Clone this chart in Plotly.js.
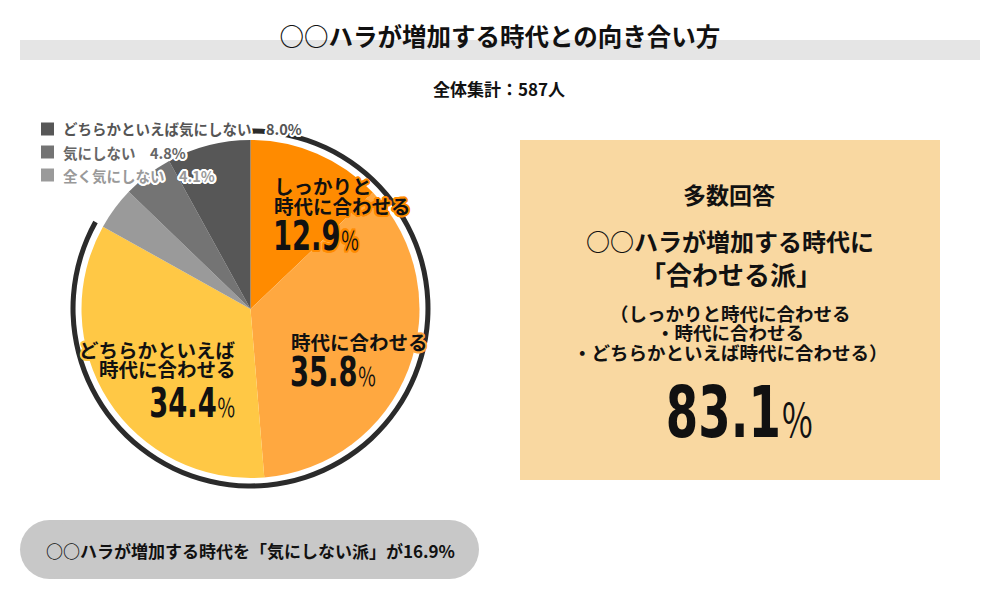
<!DOCTYPE html>
<html>
<head>
<meta charset="utf-8">
<script src="https://cdn.plot.ly/plotly-3.0.1.min.js"></script>
<style>html,body{margin:0;padding:0;background:#fff;}#chart{width:1000px;height:600px;}</style>
</head>
<body>
<div id="chart"></div>
<script>
// ---- data ----
const chartTitle = '○○ハラが増加する時代との向き合い方';
const totalLabel = '全体集計：';
const totalN = 587;
const categories = ['しっかりと時代に合わせる', '時代に合わせる', 'どちらかといえば時代に合わせる', '全く気にしない', '気にしない', 'どちらかといえば気にしない'];
const values = [12.9, 35.8, 34.4, 4.1, 4.8, 8.0];
const sliceColors = ['#FF8B00', '#FFA840', '#FFC845', '#9A9A9A', '#747474', '#575757'];
const pieLabelLines = [['しっかりと', '時代に合わせる'], ['時代に合わせる'], ['どちらかといえば', '時代に合わせる']];
const legendIdx = [5, 4, 3];
const legendTextColors = ['#555555', '#666666', '#999999'];
const agreeIdx = [0, 1, 2];
const ignoreIdx = [3, 4, 5];
const boxHead = '多数回答';
const boxLine1 = '○○ハラが増加する時代に';
const boxLine2 = '「合わせる派」';
const boxParen = ['（しっかりと時代に合わせる', '・時代に合わせる', '・どちらかといえば時代に合わせる）'];
const pillPrefix = '○○ハラが増加する時代を「気にしない派」が';

// ---- helpers ----
const W = 1000, H = 600;
const px = x => x / W;
const py = y => 1 - y / H;
const JP = '"Noto Sans CJK JP", "Noto Sans", sans-serif';
const NUM = '"DejaVu Sans Condensed", "Liberation Sans", sans-serif';
function outline(color, w) {
  const s = [];
  for (let r = 1; r <= w; r++) {
    for (let a = 0; a < 16; a++) {
      const t = a * Math.PI / 8;
      s.push((r * Math.cos(t)).toFixed(2) + 'px ' + (r * Math.sin(t)).toFixed(2) + 'px 0 ' + color);
    }
  }
  return s.join(', ');
}
const pct = v => v.toFixed(1);
const pctSpan = size => '<span style="font-size:' + size + 'px;font-weight:400;font-family:Noto Sans CJK JP">％</span>';
const sum = idx => idx.reduce((a, i) => a + values[i], 0);

// ---- traces ----
const agree = sum(agreeIdx), ignore = sum(ignoreIdx);
const ring = {
  type: 'pie', values: [agree, ignore], sort: false, direction: 'clockwise', rotation: 0,
  hole: 0.972, marker: {colors: ['#2b2b2b', 'rgba(0,0,0,0)'], line: {width: 0}},
  textinfo: 'none', hoverinfo: 'skip', showlegend: false,
  domain: {x: [px(70.5), px(430.5)], y: [py(488.5), py(128.5)]}
};
const pie = {
  type: 'pie', labels: categories, values: values, sort: false, direction: 'clockwise', rotation: 0,
  marker: {colors: sliceColors, line: {width: 0}},
  textinfo: 'none', hoverinfo: 'label+percent', showlegend: false,
  domain: {x: [px(81), px(420)], y: [py(478), py(140)]}
};

// ---- layout pieces ----
const shapes = [
  {type: 'rect', xref: 'paper', yref: 'paper', x0: px(20), x1: px(980), y0: py(60), y1: py(40), fillcolor: '#E5E5E5', line: {width: 0}, layer: 'below'},
  {type: 'rect', xref: 'paper', yref: 'paper', x0: px(520), x1: px(940), y0: py(480), y1: py(140), fillcolor: '#F9D8A1', line: {width: 0}, layer: 'below'},
  {type: 'rect', xref: 'paper', yref: 'paper', x0: px(49.5), x1: px(449.5), y0: py(579), y1: py(520), fillcolor: '#C8C8C8', line: {width: 0}, layer: 'below'},
  {type: 'circle', xref: 'paper', yref: 'paper', x0: px(20), x1: px(79), y0: py(579), y1: py(520), fillcolor: '#C8C8C8', line: {width: 0}, layer: 'below'},
  {type: 'circle', xref: 'paper', yref: 'paper', x0: px(420), x1: px(479), y0: py(579), y1: py(520), fillcolor: '#C8C8C8', line: {width: 0}, layer: 'below'}
];
const ann = [];
const squeeze = []; // [annotation index, scaleX, origin]
function add(text, x, y, opts) {
  ann.push(Object.assign({text: text, x: px(x), y: py(y), xref: 'paper', yref: 'paper', showarrow: false,
    xanchor: 'center', yanchor: 'middle'}, opts));
  return ann.length - 1;
}
add(totalLabel + totalN + '人', 499, 89, {font: {family: JP, size: 17, weight: 700, color: '#111'}});

// legend
const legendY = [129, 152, 175];
legendIdx.forEach((ci, k) => {
  shapes.push({type: 'rect', xref: 'paper', yref: 'paper', x0: px(41), x1: px(54), y0: py(legendY[k] + 6.5), y1: py(legendY[k] - 6.5), fillcolor: sliceColors[ci], line: {width: 0}});
  add(categories[ci] + '　' + pct(values[ci]) + '%', 61, legendY[k], {xanchor: 'left',
    font: {family: JP, size: 14.5, weight: 700, color: legendTextColors[k], shadow: outline('#ffffff', 2)}});
});

// pie labels
const labelPos = [
  {x: 272, ys: [185, 206], ny: 236, anchor: 'left'},
  {x: 289, ys: [341], ny: 372, anchor: 'left'},
  {x: 238, ys: [349, 368], ny: 403, anchor: 'right'}
];
labelPos.forEach((p, i) => {
  const sh = outline(sliceColors[i], 2);
  pieLabelLines[i].forEach((ln, j) => {
    add(ln, p.x, p.ys[j], {xanchor: p.anchor, font: {family: JP, size: 19.5, weight: 700, color: '#111', shadow: sh}});
  });
  const k = add(pct(values[i]) + pctSpan(25), p.x - (p.anchor === 'left' ? 1 : 0), p.ny, {xanchor: p.anchor,
    font: {family: NUM, size: 40, weight: 700, color: '#111', shadow: i === 0 ? sh : 'none'}});
  squeeze.push([k, 0.76, p.anchor]);
});

// box
add(boxHead, 729, 194, {font: {family: JP, size: 23, weight: 700, color: '#111'}});
add(boxLine1, 730, 241, {font: {family: JP, size: 24, weight: 700, color: '#111'}});
add(boxLine2, 731, 273, {font: {family: JP, size: 26, weight: 700, color: '#111'}});
const parenY = [313, 332, 352];
boxParen.forEach((t, k) => add(t, 730, parenY[k], {font: {family: JP, size: 18.5, weight: 700, color: '#111'}}));
const kb = add(pct(agree) + pctSpan(46), 740, 412, {font: {family: NUM, size: 72, weight: 700, color: '#111'}});
squeeze.push([kb, 0.72, 'center']);

// pill
add(pillPrefix + pct(ignore) + '%', 250, 550, {font: {family: JP, size: 17, weight: 700, color: '#111'}});

const layout = {
  width: W, height: H, margin: {l: 0, r: 0, t: 0, b: 0},
  paper_bgcolor: '#ffffff', plot_bgcolor: '#ffffff', showlegend: false,
  title: {text: chartTitle, x: 0.5, xanchor: 'center', xref: 'paper', y: py(37), yref: 'container', yanchor: 'middle',
    font: {family: JP, size: 24.5, weight: 700, color: '#111'}},
  shapes: shapes, annotations: ann
};
Plotly.newPlot('chart', [ring, pie], layout, {displayModeBar: false, staticPlot: true}).then(gd => {
  // condensed look for the big numbers (the reference uses a narrow display face)
  squeeze.forEach(([k, sx, origin]) => {
    const t = gd.querySelector('g.annotation[data-index="' + k + '"] text.annotation-text');
    if (!t) return;
    t.style.transformBox = 'fill-box';
    t.style.transformOrigin = origin + ' center';
    t.style.transform = 'scaleX(' + sx + ')';
  });
});
</script>
</body>
</html>
